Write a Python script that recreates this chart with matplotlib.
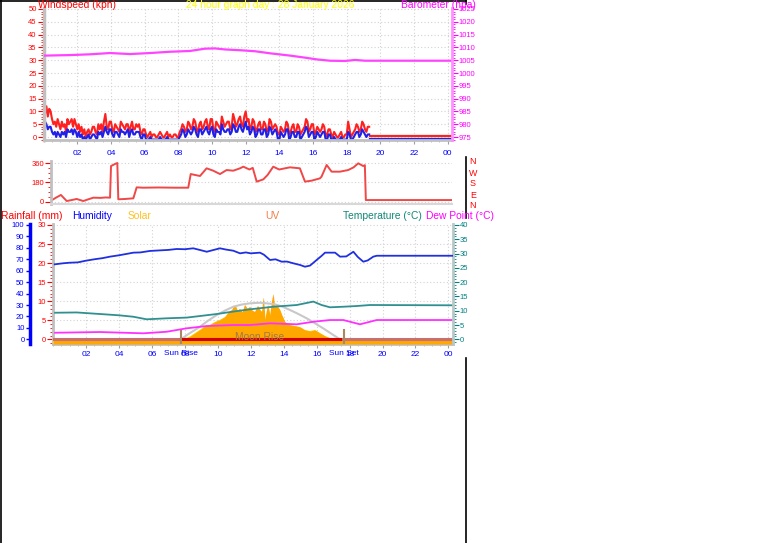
import numpy as np
import matplotlib
matplotlib.use('Agg')
import matplotlib.pyplot as plt
from matplotlib.lines import Line2D
from matplotlib.colors import LinearSegmentedColormap
from matplotlib.ticker import MultipleLocator
from matplotlib import font_manager

W, H = 761, 543

#%% data

# wind speed (kph), 5 minute readings from 00:00 (one row per hour)
gust = [13, 9, 12, 8, 11, 10, 7, 5, 6, 4, 7, 5,
        3, 6, 4, 5, 2, 7, 5, 6, 7, 4, 7, 5,
        3, 5, 2, 4, 1, 3, 0, 2, 3, 1, 2, 4,
        4, 2, 1, 5, 3, 5, 2, 6, 9, 4, 3, 6,
        6, 3, 2, 5, 4, 3, 2, 6, 5, 4, 3, 5,
        5, 2, 4, 6, 3, 3, 5, 4, 5, 2, 1, 3,
        3, 1, 0, 1, 2, 0, 1, 1, 0, 0, 1, 2,
        1, 0, 0, 1, 2, 0, 1, 0, 0, 1, 1, 0,
        0, 2, 3, 5, 4, 2, 3, 6, 5, 3, 4, 7,
        6, 3, 2, 5, 6, 3, 4, 6, 7, 4, 3, 7,
        7, 3, 2, 6, 5, 4, 3, 8, 6, 4, 5, 6,
        6, 3, 4, 9, 7, 4, 5, 7, 8, 5, 4, 8,
        10, 6, 7, 3, 4, 7, 6, 2, 3, 5, 6, 3,
        3, 6, 5, 2, 3, 7, 6, 3, 4, 5, 4, 1,
        1, 4, 3, 2, 3, 6, 5, 1, 2, 4, 5, 2,
        2, 5, 4, 1, 2, 3, 4, 7, 6, 2, 3, 5,
        5, 1, 2, 4, 3, 2, 3, 5, 4, 0, 1, 3,
        3, 1, 0, 2, 1, 0, 0, 1, 2, 0, 0, 1,
        1, 6, 3, 0, 1, 2, 3, 5, 4, 2, 3, 6,
        5, 3, 2, 4, 4]
avg = [5, 6, 5, 3, 4, 4, 2, 1, 2, 0, 2, 1,
       0, 2, 1, 2, 0, 3, 2, 2, 3, 1, 3, 2,
       0, 2, 0, 1, -1, 0, -1, 0, 1, -1, 0, 1,
       1, 0, -1, 2, 1, 2, 0, 2, 4, 2, 1, 3,
       3, 1, 0, 2, 2, 1, 0, 3, 2, 2, 1, 2,
       3, 0, 2, 3, 1, 1, 2, 2, 2, 0, -1, 1,
       1, -1, -1, -1, 0, -1, -1, -1, -1, -1, -1, 0,
       -1, -1, -1, -1, 0, -1, -1, -1, -1, -1, -1, -1,
       -1, 0, 1, 3, 2, 0, 1, 3, 2, 1, 2, 4,
       3, 1, 0, 3, 3, 1, 2, 3, 4, 2, 1, 3,
       4, 1, 0, 3, 2, 2, 1, 5, 3, 2, 2, 3,
       3, 1, 2, 5, 4, 2, 2, 4, 5, 3, 2, 4,
       6, 3, 4, 1, 2, 4, 3, 0, 1, 3, 3, 1,
       1, 3, 3, 0, 1, 4, 3, 1, 2, 3, 2, -1,
       -1, 2, 1, 0, 1, 3, 3, -1, 0, 2, 2, 0,
       0, 2, 2, -1, 0, 1, 2, 4, 3, 0, 1, 2,
       2, -1, 0, 2, 1, 0, 1, 2, 2, -1, -1, 1,
       1, -1, -1, 0, -1, -1, -1, -1, 0, -1, -1, -1,
       -1, 2, 1, -1, -1, 0, 1, 2, 2, 0, 1, 3,
       2, 1, 0, 1, 1]
wind_times = np.arange(len(gust)) / 12.0
tail_hours = [19.4, 24.25]
gust_tail = [0.3, 0.3]
avg_tail = [-0.8, -0.8]

baro_hours = [0.08, 1.57, 2.76, 3.94, 5.13, 6.32, 7.5, 8.69, 9.58, 10.18, 10.77, 11.66,
              12.55, 13.44, 14.63, 15.52, 16.24, 17.0, 17.9, 18.5, 19.08, 19.26, 24.25]
baro = [1006.8, 1007.0, 1007.3, 1007.8, 1007.4, 1007.8, 1008.3, 1008.6, 1009.5, 1009.6, 1009.2, 1008.9,
        1008.5, 1007.7, 1006.8, 1006.0, 1005.3, 1004.8, 1004.7, 1005.1, 1004.8, 1004.8, 1004.8]

dir_hours = [0.0, 0.3, 0.6, 0.95, 1.25, 1.55, 1.95, 2.26, 2.56, 3.0,
             3.3, 3.57, 3.63, 3.87, 4.01, 4.07, 4.5, 4.98, 5.18, 5.58,
             6.5, 7.5, 8.3, 8.45, 9.01, 9.41, 9.81, 10.22, 10.62, 11.02,
             11.43, 11.63, 12.0, 12.2, 12.44, 12.84, 13.1, 13.44, 13.8, 14.15,
             14.45, 15.05, 15.36, 15.76, 16.26, 16.36, 16.67, 16.97, 17.47, 17.97,
             18.3, 18.58, 18.88, 18.98, 19.04, 24.25]
wind_dir = [12, 40, 65, 9, 18, 28, 9, 25, 40, 38,
            42, 40, 332, 351, 360, 25, 28, 34, 135, 132,
            134, 132, 132, 258, 240, 311, 289, 258, 295, 289,
            311, 326, 300, 315, 188, 209, 250, 326, 300, 311,
            320, 311, 188, 197, 218, 234, 342, 280, 280, 295,
            320, 357, 332, 340, 18, 18]

hum_hours = [0.1, 0.6, 1.0, 1.5, 2.0, 2.5, 3.0, 3.45, 4.0, 4.5,
             4.87, 5.3, 5.88, 6.5, 7.0, 7.5, 8.0, 8.51, 8.9, 9.33,
             9.7, 10.13, 10.5, 10.94, 11.35, 11.7, 12.0, 12.56, 12.8, 13.0,
             13.17, 13.5, 13.88, 14.2, 14.58, 15.0, 15.29, 15.6, 16.0, 16.3,
             16.51, 17.12, 17.42, 17.8, 18.23, 18.5, 18.83, 19.1, 19.44, 19.65, 24.26]
humidity = [65.6, 66.5, 67.0, 67.3, 68.8, 70.0, 71.0, 72.3, 73.5, 74.8,
            75.8, 76.0, 77.3, 77.8, 78.2, 79.0, 78.8, 79.6, 78.2, 76.6,
            78.0, 79.6, 78.5, 77.5, 75.2, 76.0, 75.2, 75.8, 74.0, 71.5,
            69.4, 70.0, 67.9, 68.0, 66.5, 65.0, 63.5, 64.5, 69.4, 73.0,
            75.8, 75.8, 72.3, 72.5, 76.6, 72.0, 67.9, 69.0, 72.3, 73.1, 73.1]

temp_hours = [0.12, 1.43, 2.85, 4.0, 4.87, 5.68, 6.9, 8.11, 8.92, 9.93, 10.94,
              11.96, 13.37, 14.79, 15.8, 16.3, 16.81, 17.62, 18.43, 19.24, 24.26]
temperature = [9.3, 9.4, 8.85, 8.4, 7.9, 7.0, 7.35, 7.6, 8.15, 8.85, 9.7,
               10.5, 11.4, 12.0, 13.2, 12.0, 11.2, 11.4, 11.65, 12.0, 11.9]

dew_hours = [0.12, 2.85, 5.48, 6.9, 8.11, 9.33, 10.94, 11.96,
             13.17, 14.79, 15.8, 16.81, 17.62, 18.63, 19.65, 24.26]
dewpoint = [2.3, 2.55, 2.1, 2.65, 3.85, 4.65, 5.0, 5.0,
            5.6, 5.25, 6.15, 6.75, 6.75, 5.25, 6.75, 6.75]

solar_hours = [0.0, 7.89, 8.3, 8.62, 9.0, 9.22, 9.5, 9.83, 10.1, 10.44,
               10.7, 10.87, 11.05, 11.2, 11.35, 11.5, 11.65, 11.8, 11.96, 12.1,
               12.26, 12.44, 12.6, 12.69, 12.77, 12.87, 13.05, 13.17, 13.3, 13.37,
               13.45, 13.53, 13.65, 13.77, 13.9, 14.08, 14.38, 14.68, 14.99, 15.29,
               15.6, 15.9, 16.2, 16.51, 16.81, 17.11, 17.24, 24.26]
solar = [0, 0, 30, 66, 110, 140, 150, 182, 200, 234,
         290, 308, 360, 300, 318, 280, 360, 320, 339, 300,
         287, 350, 300, 287, 441, 203, 360, 245, 400, 476,
         330, 360, 340, 308, 250, 182, 150, 140, 129, 98,
         87, 98, 66, 35, 14, 3, 0, 0]

arc_hours = [7.75, 8.3, 8.92, 9.4, 9.93, 10.44, 10.94, 11.45, 11.95, 12.56,
             13.37, 13.9, 14.38, 14.9, 15.4, 15.9, 16.4, 16.9, 17.42]
solar_max = [0, 65, 132, 195, 255, 302, 342, 365, 378, 384,
             371, 345, 308, 265, 220, 168, 115, 58, 0]

rain_hours = [0.0, 24.26]
rain = [0, 0]
sunrise, sunset = 7.75, 17.66
uv_hours = [7.75, 17.4]
uv = [0, 0]

hour_ticks = list(range(2, 25, 2))
hour_labels = ['%02d' % (h % 24) for h in hour_ticks]

#%% fonts

names = {f.name for f in font_manager.fontManager.ttflist}
if 'Liberation Sans Narrow' in names:
    HF, HS = 'Liberation Sans Narrow', 9.0
else:
    HF, HS = 'Liberation Sans', 7.4
TF, TS = 'Liberation Sans', 5.5

GRID = dict(color='#D2D2D2', linestyle=(0, (1, 2)), linewidth=0.8)
SPINE = '#C0C0C0'


def rect(x0, y0, x1, y1):
    return [x0 / W, 1 - y1 / H, (x1 - x0) / W, (y1 - y0) / H]


def fig_line(x0, y0, x1, y1):
    fig.add_artist(Line2D([x0 / W, x1 / W], [1 - y0 / H, 1 - y1 / H],
                          transform=fig.transFigure, color='k', lw=1.2))


def head(x, y, s, c):
    fig.text(x / W, 1 - y / H, s, color=c, family=HF, fontsize=HS,
             ha='left', va='baseline')


def style_x(ax, pad):
    ax.set_xticks(hour_ticks)
    ax.set_xticklabels(hour_labels, family=TF)
    ax.xaxis.set_minor_locator(MultipleLocator(0.5))
    ax.tick_params(axis='x', which='major', color='#A0A0A0', labelcolor='#0000FF',
                   length=3, width=0.8, labelsize=6, pad=pad)
    ax.tick_params(axis='x', which='minor', color='#B0B0B0', length=1.5, width=0.6)


def style_y(ax, major, minor, col):
    ax.yaxis.set_major_locator(MultipleLocator(major))
    if minor:
        ax.yaxis.set_minor_locator(MultipleLocator(minor))
    ax.tick_params(axis='y', which='major', colors=col, length=4, width=0.8,
                   labelsize=TS, pad=1)
    ax.tick_params(axis='y', which='minor', colors=col, length=2, width=0.6)
    for t in ax.get_yticklabels():
        t.set_family(TF)


fig = plt.figure(figsize=(W / 100, H / 100), dpi=100)
fig.patch.set_facecolor('white')

#%% wind speed / barometer

ax1 = fig.add_axes(rect(43.6, 8, 452, 140))
ax1.set_xlim(0, 24.25)
ax1.set_ylim(-1.17, 50.39)
ax1.plot(wind_times, gust, color='#FF2020', lw=1.5)
ax1.plot(tail_hours, gust_tail, color='#FF2020', lw=1.6)
ax1.plot(wind_times, avg, color='#2020E8', lw=1.5)
ax1.plot(tail_hours, avg_tail, color='#2020E8', lw=1.6)
ax1.grid(True, which='major', **GRID)
style_x(ax1, 4)
style_y(ax1, 5, 1, '#FF0000')
ax1.spines['top'].set_visible(False)
ax1.spines['right'].set_visible(False)
ax1.spines['left'].set_color(SPINE)
ax1.spines['left'].set_linewidth(2.5)
ax1.spines['bottom'].set_color(SPINE)
ax1.spines['bottom'].set_linewidth(2)

axb = ax1.twinx()
axb.set_ylim(975 - 1.17, 975 + 50.39)
axb.plot(baro_hours, baro, color='#FF44FF', lw=1.6)
style_y(axb, 5, 1, '#FF00FF')
for s in ['left', 'top', 'bottom']:
    axb.spines[s].set_visible(False)
axb.spines['right'].set_color('#FF90FF')
axb.spines['right'].set_linewidth(2)

#%% wind direction

ax2 = fig.add_axes(rect(51, 161, 452, 204))
ax2.set_xlim(0, 24.25)
ax2.set_ylim(-18.5, 378.5)
ax2.plot(dir_hours, wind_dir, color='#F04848', lw=1.4)
ax2.set_yticks([0, 180, 360])
ax2.yaxis.set_minor_locator(MultipleLocator(45))
ax2.tick_params(axis='y', which='major', colors='#FF0000', length=4, width=0.8, labelsize=TS, pad=1)
ax2.tick_params(axis='y', which='minor', colors='#FF0000', length=2, width=0.6)
for t in ax2.get_yticklabels():
    t.set_family(TF)
ax2.set_xticks([])
ax2.grid(True, axis='y', **GRID)
ax2.spines['top'].set_visible(False)
ax2.spines['right'].set_visible(False)
ax2.spines['left'].set_color(SPINE)
ax2.spines['left'].set_linewidth(2)
ax2.spines['bottom'].set_color('#D8D8D8')
ax2.spines['bottom'].set_linewidth(1.5)

for i, ch in enumerate(['N', 'W', 'S', 'E', 'N']):
    fig.text(473 / W, 1 - (162 + 11 * i) / H, ch, color='#FF0000', family=HF,
             fontsize=HS - 1, ha='center', va='center')

#%% rainfall / humidity / solar / temperature

ax3 = fig.add_axes(rect(53.1, 224, 452.7, 344))
ax3.set_xlim(0, 24.26)
ax3.set_ylim(-1.23, 30.26)
ax3.grid(True, which='major', **GRID)
style_x(ax3, 2)
style_y(ax3, 5, 1, '#FF0000')
ax3.spines['top'].set_visible(False)
ax3.spines['right'].set_visible(False)
ax3.spines['left'].set_color(SPINE)
ax3.spines['left'].set_linewidth(2)
ax3.spines['bottom'].set_color(SPINE)
ax3.spines['bottom'].set_linewidth(2)
ax3.text(sunrise, -0.083, 'Sun Rise', transform=ax3.get_xaxis_transform(),
         color='#0000FF', family=TF, fontsize=6, ha='center', va='center')
ax3.text(sunset, -0.083, 'Sun Set', transform=ax3.get_xaxis_transform(),
         color='#0000FF', family=TF, fontsize=6, ha='center', va='center')

# solar on its own hidden scale (W/m2, 30 mm <-> 1200)
axs = ax3.twinx()
axs.axis('off')
sol_lim = (-1.23 * 40, 30.26 * 40)
poly = axs.fill_between(solar_hours, sol_lim[0], solar, color='#FFA800', lw=0)
cmap = LinearSegmentedColormap.from_list('sol', ['#FFE800', '#FFCC00', '#FFA000', '#FF9000'])
grad = np.linspace(0, 1, 256).reshape(-1, 1)
im = axs.imshow(grad, extent=[0, 24.26, sol_lim[0], 480], origin='lower',
                aspect='auto', cmap=cmap, interpolation='bilinear')
im.set_clip_path(poly.get_paths()[0], transform=axs.transData)
axs.plot(arc_hours, solar_max, color='#C8C8C8', lw=1.5)
axs.plot(rain_hours, rain, color='#C87070', lw=2.2, transform=ax3.transData)
axs.plot(uv_hours, uv, color='#D40000', lw=2.2, transform=ax3.transData)
axs.axvline(sunrise, ymin=0, ymax=0.12, color='#A88860', lw=1.5)
axs.axvline(sunset, ymin=0, ymax=0.12, color='#A88860', lw=1.5)
axs.text(12.53, 0.7, 'Moon Rise', transform=ax3.transData, color='#A07850',
         family=HF, fontsize=HS, ha='center', va='center')
axs.set_xlim(0, 24.26)
axs.set_ylim(*sol_lim)

axt = ax3.twinx()
axt.set_ylim(-1.23 * 4 / 3, 30.26 * 4 / 3)
axt.plot(temp_hours, temperature, color='#309090', lw=1.3)
axt.plot(dew_hours, dewpoint, color='#FF30FF', lw=1.3)
style_y(axt, 5, 1, '#008080')
for s in ['left', 'top', 'bottom']:
    axt.spines[s].set_visible(False)
axt.spines['right'].set_color('#B8C8C8')
axt.spines['right'].set_linewidth(2)

axh = ax3.twinx()
axh.set_ylim(-1.23 * 10 / 3, 30.26 * 10 / 3)
axh.plot(hum_hours, humidity, color='#2030E0', lw=1.3)
axh.yaxis.tick_left()
axh.spines['left'].set_position(('axes', (30 - 53.1) / 399.6))
axh.spines['left'].set_color('#0000FF')
axh.spines['left'].set_linewidth(2.5)
for s in ['right', 'top', 'bottom']:
    axh.spines[s].set_visible(False)
axh.yaxis.set_major_locator(MultipleLocator(10))
axh.tick_params(axis='y', colors='#0000FF', length=3, width=1, labelsize=TS, pad=1)
for t in axh.get_yticklabels():
    t.set_family(TF)

#%% titles and frame

head(38, 7.5, 'Windspeed (kph)', '#FF0000')
head(186, 7.5, '24 hour graph day : 28 January 2026', '#FFFF00')
head(401, 7.5, 'Barometer (hpa)', '#FF00FF')
head(1, 219, 'Rainfall (mm)', '#FF0000')
head(72, 219, 'Humidity', '#0000FF')
head(128, 219, 'Solar', '#FFC020')
head(265, 219, 'UV', '#F08048')
head(343, 219, 'Temperature (°C)', '#108878')
head(426, 219, 'Dew Point (°C)', '#FF00FF')

fig_line(0.5, 0, 0.5, 543)
fig_line(0, 0.5, 466, 0.5)
fig_line(466, 0, 466, 4)
fig_line(466, 157, 466, 218)
fig_line(466, 358, 466, 543)

fig.savefig('out.png', dpi=100, facecolor='white')
